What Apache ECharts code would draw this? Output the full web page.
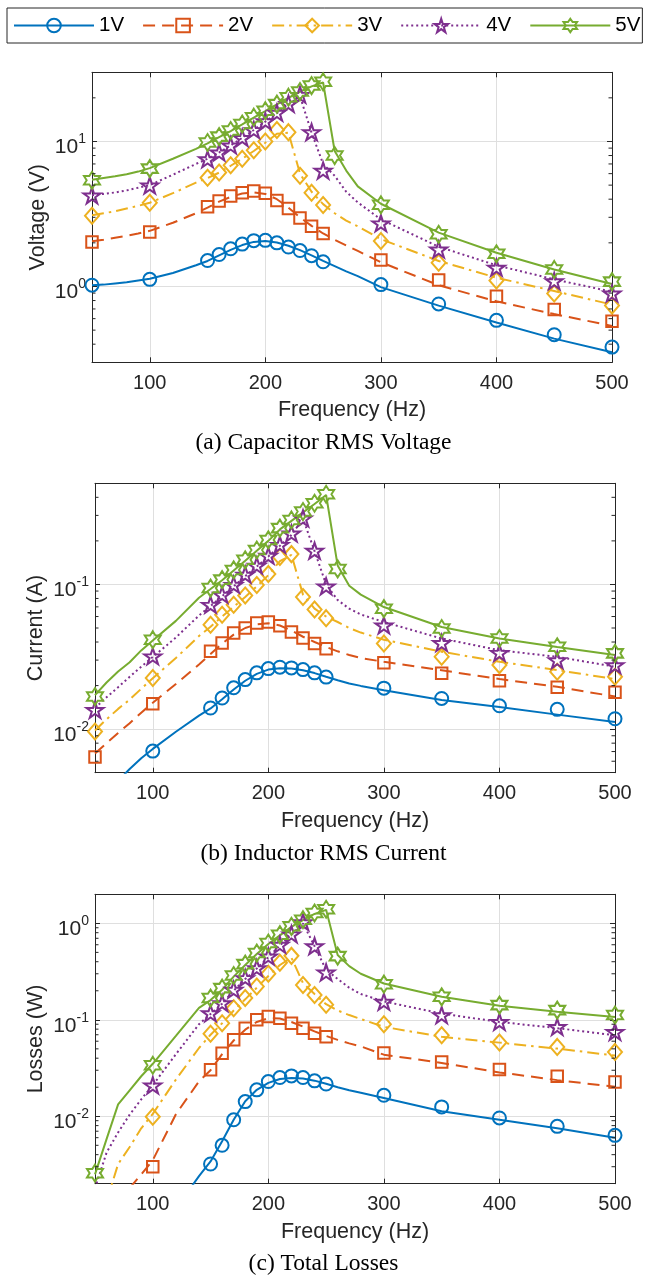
<!DOCTYPE html>
<html>
<head>
<meta charset="utf-8">
<script src="https://cdn.jsdelivr.net/npm/echarts@6/dist/echarts.min.js"></script>
<style>
html, body { margin: 0; padding: 0; background: #ffffff; }
#chart { width: 647px; height: 1278px; }
</style>
</head>
<body>
<div id="chart"></div>
<script>
// ---------------------------------------------------------------
// Data
// ---------------------------------------------------------------
const seriesNames = ['1V', '2V', '3V', '4V', '5V'];

// frequencies of the measured points (Hz)
const measFreq = [50, 100, 150, 160, 170, 180, 190, 200, 210, 220, 230, 240, 250, 260, 300, 350, 400, 450, 500];
// frequencies at which the model curves are evaluated (Hz)
const modelFreq = [50, 60, 70, 80, 90, 100, 120, 140, 150, 160, 170, 180, 190, 200, 210, 220, 230, 240, 250, 260, 270, 280, 300, 350, 400, 450, 500];

// (a) capacitor RMS voltage, measured (V)
const voltMeas1V = [1.02, 1.12, 1.51, 1.66, 1.82, 1.96, 2.07, 2.08, 2.00, 1.87, 1.77, 1.63, 1.48, null, 1.03, 0.758, 0.584, 0.465, 0.382];
const voltMeas2V = [2.03, 2.38, 3.55, 3.88, 4.20, 4.43, 4.55, 4.40, 3.92, 3.45, 2.97, 2.60, 2.32, null, 1.52, 1.11, 0.857, 0.693, 0.575];
const voltMeas3V = [3.07, 3.78, 5.63, 6.10, 6.85, 7.60, 8.70, 10.0, 12.0, 11.6, 5.80, 4.43, 3.65, null, 2.06, 1.46, 1.10, 0.895, 0.738];
const voltMeas4V = [4.25, 4.98, 7.55, 8.40, 9.40, 10.6, 12.0, 13.8, 15.8, 18.2, 21.0, 11.6, 6.30, null, 2.73, 1.80, 1.35, 1.09, 0.895];
const voltMeas5V = [5.40, 6.50, 9.84, 10.8, 11.9, 13.2, 14.7, 16.3, 18.1, 20.2, 22.1, 24.3, 25.8, 8.00, 3.66, 2.29, 1.68, 1.31, 1.08];

// (a) capacitor RMS voltage, model (V)
const voltModel1V = [1.02, 1.03, 1.05, 1.07, 1.10, 1.13, 1.24, 1.40, 1.50, 1.64, 1.79, 1.93, 2.03, 2.06, 2.01, 1.91, 1.78, 1.64, 1.50, 1.38, 1.27, 1.18, 0.99, 0.738, 0.565, 0.437, 0.352];
const voltModel2V = [2.05, 2.10, 2.17, 2.24, 2.32, 2.42, 2.75, 3.20, 3.50, 3.85, 4.15, 4.38, 4.45, 4.35, 4.00, 3.50, 3.00, 2.62, 2.32, 2.10, 1.92, 1.76, 1.47, 1.02, 0.79, 0.645, 0.535];
const voltModel3V = [3.10, 3.20, 3.30, 3.45, 3.60, 3.78, 4.40, 5.20, 5.60, 6.10, 6.80, 7.60, 8.60, 9.80, 11.3, 11.5, 6.00, 4.50, 3.70, 3.20, 2.85, 2.60, 2.12, 1.50, 1.15, 0.93, 0.75];
const voltModel4V = [4.25, 4.35, 4.45, 4.60, 4.80, 5.00, 5.90, 7.00, 7.60, 8.40, 9.40, 10.6, 12.0, 13.7, 15.7, 18.0, 20.5, 11.5, 7.00, 5.80, 4.50, 3.80, 2.90, 1.88, 1.40, 1.12, 0.92];
const voltModel5V = [5.45, 5.60, 5.75, 5.95, 6.20, 6.55, 7.60, 8.90, 9.70, 10.7, 11.8, 13.1, 14.6, 16.2, 18.0, 20.0, 22.0, 24.0, 25.5, 8.60, 6.30, 4.90, 3.72, 2.35, 1.71, 1.31, 1.04];

// (b) inductor RMS current, measured (A)
const currMeas1V = [null, 0.00705, 0.0140, 0.0164, 0.0193, 0.0220, 0.0245, 0.0262, 0.0268, 0.0265, 0.0258, 0.0245, 0.0229, null, 0.0192, 0.0163, 0.0145, 0.0137, 0.0118];
const currMeas2V = [0.00641, 0.0150, 0.0345, 0.0394, 0.0461, 0.0500, 0.0541, 0.0549, 0.0518, 0.0469, 0.0426, 0.0390, 0.0360, null, 0.0288, 0.0243, 0.0216, 0.0195, 0.0180];
const currMeas3V = [0.00964, 0.0226, 0.0527, 0.0618, 0.0724, 0.0840, 0.0990, 0.118, 0.155, 0.162, 0.0820, 0.0670, 0.0585, null, 0.0391, 0.0316, 0.0277, 0.0249, 0.0230];
const currMeas4V = [0.0136, 0.0319, 0.0724, 0.0849, 0.0995, 0.117, 0.135, 0.158, 0.188, 0.225, 0.286, 0.171, 0.097, null, 0.0522, 0.0394, 0.0337, 0.0300, 0.0277];
const currMeas5V = [0.0168, 0.0415, 0.0944, 0.108, 0.126, 0.148, 0.173, 0.203, 0.245, 0.279, 0.319, 0.364, 0.420, 0.128, 0.0680, 0.0496, 0.0423, 0.0371, 0.0334];

// (b) inductor RMS current, model (A)
const currModel1V = [0.0026, 0.0034, 0.0044, 0.0053, 0.0063, 0.0073, 0.0096, 0.0124, 0.0139, 0.0161, 0.0188, 0.0216, 0.0241, 0.0258, 0.0264, 0.0262, 0.0255, 0.0244, 0.0230, 0.0218, 0.0207, 0.0199, 0.0186, 0.0159, 0.0142, 0.0126, 0.0112];
const currModel2V = [0.0068, 0.0080, 0.0094, 0.0110, 0.0130, 0.0152, 0.0205, 0.0280, 0.0330, 0.0390, 0.0450, 0.0500, 0.0530, 0.0540, 0.0520, 0.0480, 0.0435, 0.0400, 0.0370, 0.0345, 0.0325, 0.0310, 0.0292, 0.0255, 0.0222, 0.0196, 0.0168];
const currModel3V = [0.0098, 0.0117, 0.0138, 0.0160, 0.0190, 0.0225, 0.0310, 0.0440, 0.0510, 0.0600, 0.0700, 0.0820, 0.0970, 0.116, 0.145, 0.160, 0.0850, 0.0680, 0.0600, 0.0550, 0.0500, 0.0465, 0.0415, 0.0343, 0.0292, 0.0256, 0.0222];
const currModel4V = [0.0140, 0.0166, 0.0195, 0.0230, 0.0270, 0.0315, 0.0430, 0.0610, 0.0710, 0.0830, 0.0970, 0.114, 0.133, 0.156, 0.185, 0.220, 0.285, 0.170, 0.100, 0.0780, 0.0680, 0.0620, 0.0550, 0.0423, 0.0351, 0.0316, 0.0270];
const currModel5V = [0.0172, 0.0210, 0.0250, 0.0290, 0.0350, 0.0410, 0.0560, 0.0810, 0.0930, 0.107, 0.125, 0.146, 0.171, 0.200, 0.240, 0.275, 0.315, 0.360, 0.415, 0.135, 0.0980, 0.0850, 0.0698, 0.0508, 0.0423, 0.0370, 0.0325];

// (c) total losses, measured (W)
const lossMeas1V = [null, null, 0.0032, 0.0050, 0.0092, 0.0142, 0.0188, 0.0229, 0.0252, 0.0262, 0.0252, 0.0233, 0.0216, null, 0.0165, 0.0125, 0.0096, 0.00786, 0.00634];
const lossMeas2V = [null, 0.0030, 0.0303, 0.0451, 0.0620, 0.0819, 0.100, 0.108, 0.104, 0.0923, 0.0819, 0.0727, 0.0668, null, 0.0454, 0.0366, 0.0305, 0.0260, 0.0227];
const lossMeas3V = [null, 0.0099, 0.0716, 0.0923, 0.132, 0.168, 0.222, 0.300, 0.390, 0.460, 0.230, 0.181, 0.143, null, 0.0900, 0.0692, 0.0581, 0.0524, 0.0465];
const lossMeas4V = [null, 0.0209, 0.117, 0.149, 0.205, 0.271, 0.344, 0.454, 0.601, 0.770, 1.03, 0.580, 0.310, null, 0.154, 0.112, 0.0953, 0.0845, 0.0750];
const lossMeas5V = [0.00257, 0.0338, 0.168, 0.213, 0.288, 0.378, 0.492, 0.625, 0.763, 0.931, 1.09, 1.28, 1.40, 0.457, 0.234, 0.173, 0.142, 0.126, 0.112];

// (c) total losses, model (W)
const lossModel1V = [null, null, null, null, null, null, 0.0011, 0.0024, 0.0034, 0.0055, 0.0092, 0.0143, 0.0188, 0.0222, 0.0243, 0.0250, 0.0246, 0.0234, 0.0217, 0.0200, 0.0186, 0.0175, 0.0155, 0.0113, 0.0092, 0.0075, 0.0060];
const lossModel2V = [null, null, null, 0.0018, 0.0025, 0.0035, 0.0105, 0.0230, 0.0300, 0.0440, 0.0610, 0.0790, 0.0950, 0.104, 0.103, 0.0950, 0.0850, 0.0760, 0.0680, 0.0620, 0.0570, 0.0530, 0.0435, 0.0357, 0.0285, 0.0237, 0.0202];
const lossModel3V = [null, 0.0013, 0.0032, 0.0048, 0.0075, 0.0106, 0.0240, 0.0510, 0.0700, 0.0920, 0.125, 0.163, 0.215, 0.285, 0.370, 0.440, 0.240, 0.185, 0.145, 0.125, 0.112, 0.102, 0.0845, 0.0667, 0.0580, 0.0503, 0.0426];
const lossModel4V = [0.0018, 0.0042, 0.0068, 0.0104, 0.0150, 0.0210, 0.0440, 0.0900, 0.115, 0.147, 0.200, 0.265, 0.340, 0.445, 0.590, 0.760, 1.00, 0.580, 0.330, 0.265, 0.215, 0.185, 0.155, 0.116, 0.0950, 0.0820, 0.0690];
const lossModel5V = [0.0025, 0.0058, 0.0133, 0.0186, 0.0260, 0.0350, 0.0680, 0.133, 0.160, 0.205, 0.280, 0.370, 0.480, 0.610, 0.750, 0.920, 1.08, 1.25, 1.38, 0.470, 0.360, 0.300, 0.238, 0.173, 0.140, 0.121, 0.107];

// axis ranges and tick labels
const freqMin = 50;
const freqMax = 500;
const freqTicks = [100, 200, 300, 400, 500];
const yMin = [0.3, 0.005, 0.002];
const yMax = [30, 0.5, 2];
const yNames = ['Voltage (V)', 'Current (A)', 'Losses (W)'];
const xName = 'Frequency (Hz)';
const captions = ['(a) Capacitor RMS Voltage', '(b) Inductor RMS Current', '(c) Total Losses'];

const panels = [
  { meas: [voltMeas1V, voltMeas2V, voltMeas3V, voltMeas4V, voltMeas5V],
    model: [voltModel1V, voltModel2V, voltModel3V, voltModel4V, voltModel5V] },
  { meas: [currMeas1V, currMeas2V, currMeas3V, currMeas4V, currMeas5V],
    model: [currModel1V, currModel2V, currModel3V, currModel4V, currModel5V] },
  { meas: [lossMeas1V, lossMeas2V, lossMeas3V, lossMeas4V, lossMeas5V],
    model: [lossModel1V, lossModel2V, lossModel3V, lossModel4V, lossModel5V] }
];

// ---------------------------------------------------------------
// Styling
// ---------------------------------------------------------------
const SANS = '"Liberation Sans", Arial, Helvetica, sans-serif';
const SERIF = '"Liberation Serif", "Times New Roman", serif';
const AXIS_COLOR = '#262626';
const GRID_COLOR = '#dfdfdf';
const COLORS = ['#0072BD', '#D95319', '#EDB120', '#7E2F8E', '#77AC30'];
const DASHES = ['solid', [12, 7], [12, 5, 2.5, 5], [2, 3], 'solid'];
const PENTAGRAM = 'path://M0,-10L2.245,-3.09L9.511,-3.09L3.633,1.18L5.878,8.09L0,3.82L-5.878,8.09L-3.633,1.18L-9.511,-3.09L-2.245,-3.09Z';
const HEXAGRAM = 'path://M0,-10L2.887,-5L8.66,-5L5.774,0L8.66,5L2.887,5L0,10L-2.887,5L-8.66,5L-5.774,0L-8.66,-5L-2.887,-5Z';
const SYMBOLS = ['circle', 'rect', 'diamond', PENTAGRAM, HEXAGRAM];
const SYMBOL_SIZES = [13, 11.5, [14, 16], [17, 16], [16, 17]];
const MAJOR_LEN = 5;
const MINOR_LEN = 3.5;

const grids = [
  { left: 92, top: 72.3, width: 520, height: 290 },
  { left: 95, top: 483.3, width: 520, height: 289.4 },
  { left: 95, top: 894.3, width: 520, height: 289.4 }
];
const yNameGaps = [43, 48, 48];
const captionTops = [431, 842, 1252];

function pairs(xs, ys) {
  const out = [];
  for (let i = 0; i < xs.length; i++) {
    if (ys[i] !== null && ys[i] !== undefined) out.push([xs[i], ys[i]]);
  }
  return out;
}

// "10^n" tick label with a raised exponent
function powerLabel(v) {
  const e = Math.log10(v);
  const r = Math.round(e);
  if (Math.abs(e - r) > 1e-6) return '';
  return '{b|10}{s|' + String(r) + '}';
}

// minor ticks (2..9 within each decade) on both vertical frame edges
function minorTickValues(lo, hi) {
  const vals = [];
  for (let d = Math.floor(Math.log10(lo)); d <= Math.ceil(Math.log10(hi)); d++) {
    for (let k = 2; k <= 9; k++) {
      const v = k * Math.pow(10, d);
      if (v > lo * 1.0001 && v < hi * 0.9999) vals.push(+v.toPrecision(6));
    }
  }
  return vals;
}

function minorTickItem(params, api) {
  const v = api.value(1);
  const l = api.coord([freqMin, v]);
  const r = api.coord([freqMax, v]);
  return {
    type: 'group',
    children: [
      { type: 'line', shape: { x1: l[0], y1: l[1], x2: l[0] + MINOR_LEN, y2: l[1] },
        style: { stroke: AXIS_COLOR, lineWidth: 1 } },
      { type: 'line', shape: { x1: r[0], y1: r[1], x2: r[0] - MINOR_LEN, y2: r[1] },
        style: { stroke: AXIS_COLOR, lineWidth: 1 } }
    ]
  };
}

const gridOpt = [];
const xAxes = [];
const yAxes = [];
const series = [];

grids.forEach(function (g, i) {
  gridOpt.push(Object.assign({ containLabel: false, outerBoundsMode: 'none', show: false }, g));

  // bottom frequency axis
  xAxes.push({
    type: 'value', gridIndex: i, position: 'bottom', min: freqMin, max: freqMax,
    name: xName, nameLocation: 'middle', nameGap: 37, nameMoveOverlap: false,
    nameTextStyle: { fontFamily: SANS, fontSize: 21.5, color: AXIS_COLOR },
    axisLine: { show: true, onZero: false, lineStyle: { color: AXIS_COLOR, width: 1 } },
    axisTick: { show: true, inside: true, length: MAJOR_LEN, customValues: freqTicks,
                lineStyle: { color: AXIS_COLOR, width: 1 } },
    axisLabel: { show: true, margin: 11, customValues: freqTicks, fontFamily: SANS, fontSize: 20, color: AXIS_COLOR },
    splitLine: { show: true, lineStyle: { color: GRID_COLOR, width: 1 } }
  });
  // top frame edge
  xAxes.push({
    type: 'value', gridIndex: i, position: 'top', min: freqMin, max: freqMax,
    axisLine: { show: true, onZero: false, lineStyle: { color: AXIS_COLOR, width: 1 } },
    axisTick: { show: true, inside: true, length: MAJOR_LEN, customValues: freqTicks,
                lineStyle: { color: AXIS_COLOR, width: 1 } },
    axisLabel: { show: false },
    splitLine: { show: false }
  });

  // left logarithmic axis
  yAxes.push({
    type: 'log', logBase: 10, gridIndex: i, position: 'left', min: yMin[i], max: yMax[i],
    name: yNames[i], nameLocation: 'middle', nameGap: yNameGaps[i], nameRotate: 90, nameMoveOverlap: false,
    nameTextStyle: { fontFamily: SANS, fontSize: 21.5, color: AXIS_COLOR },
    axisLine: { show: true, onZero: false, lineStyle: { color: AXIS_COLOR, width: 1 } },
    axisTick: { show: true, inside: true, length: MAJOR_LEN, lineStyle: { color: AXIS_COLOR, width: 1 } },
    axisLabel: {
      show: true, margin: 6, formatter: powerLabel, fontFamily: SANS, color: AXIS_COLOR,
      rich: {
        b: { fontFamily: SANS, fontSize: 21, color: AXIS_COLOR, padding: [12, 0, 0, 0] },
        s: { fontFamily: SANS, fontSize: 14, color: AXIS_COLOR, padding: [0, 0, 4, 0] }
      }
    },
    splitLine: { show: true, lineStyle: { color: GRID_COLOR, width: 1 } }
  });
  // right frame edge
  yAxes.push({
    type: 'log', logBase: 10, gridIndex: i, position: 'right', min: yMin[i], max: yMax[i],
    axisLine: { show: true, onZero: false, lineStyle: { color: AXIS_COLOR, width: 1 } },
    axisTick: { show: true, inside: true, length: MAJOR_LEN, lineStyle: { color: AXIS_COLOR, width: 1 } },
    axisLabel: { show: false },
    splitLine: { show: false }
  });

  // minor ticks
  series.push({
    type: 'custom', coordinateSystem: 'cartesian2d', xAxisIndex: 2 * i, yAxisIndex: 2 * i,
    silent: true, z: 4, renderItem: minorTickItem,
    data: minorTickValues(yMin[i], yMax[i]).map(function (v) { return [freqMin, v]; })
  });

  // model curves and measured points
  seriesNames.forEach(function (name, k) {
    series.push({
      type: 'line', name: name, xAxisIndex: 2 * i, yAxisIndex: 2 * i,
      data: pairs(modelFreq, panels[i].model[k]),
      symbol: SYMBOLS[k], symbolSize: SYMBOL_SIZES[k], showSymbol: false,
      clip: true, silent: true, z: 2,
      itemStyle: { color: COLORS[k] },
      lineStyle: { color: COLORS[k], width: 2, type: DASHES[k] },
      emphasis: { disabled: true }
    });
    series.push({
      type: 'scatter', name: name, xAxisIndex: 2 * i, yAxisIndex: 2 * i,
      data: pairs(measFreq, panels[i].meas[k]),
      symbol: SYMBOLS[k], symbolSize: SYMBOL_SIZES[k],
      clip: true, silent: true, z: 2,
      itemStyle: { color: 'rgba(0,0,0,0)', borderColor: COLORS[k], borderWidth: 2, opacity: 1 },
      emphasis: { disabled: true }
    });
  });
});

const option = {
  animation: false,
  backgroundColor: '#ffffff',
  title: captions.map(function (t, i) {
    return {
      text: t, left: 'center', top: captionTops[i], padding: 0,
      textStyle: { fontFamily: SERIF, fontSize: 23.5, fontWeight: 'normal', color: '#000000' }
    };
  }),
  legend: {
    show: true, orient: 'horizontal', left: 7, top: 8, width: 636,
    padding: [7, 2, 7, 6], itemGap: 18, itemWidth: 80, itemHeight: 17,
    borderColor: AXIS_COLOR, borderWidth: 1, backgroundColor: '#ffffff',
    selectedMode: false,
    textStyle: { fontFamily: SANS, fontSize: 20.5, color: '#000000' },
    data: seriesNames.map(function (n, k) {
      return {
        name: n,
        itemStyle: { color: 'rgba(0,0,0,0)', borderColor: COLORS[k], borderWidth: 2 },
        lineStyle: { color: COLORS[k], width: 2, type: DASHES[k] }
      };
    })
  },
  grid: gridOpt,
  xAxis: xAxes,
  yAxis: yAxes,
  series: series
};

const chart = echarts.init(document.getElementById('chart'), null, { renderer: 'canvas' });
chart.setOption(option);
</script>
</body>
</html>
